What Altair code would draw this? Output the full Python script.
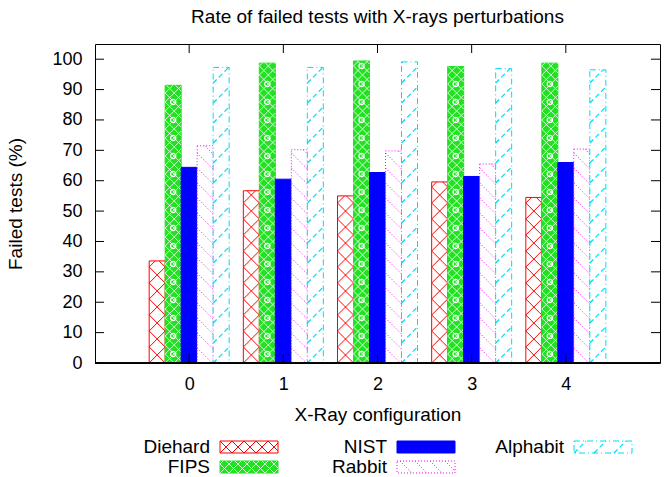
import altair as alt
import pandas as pd

# ---------------- data ----------------
configs = [0, 1, 2, 3, 4]
series = ["Diehard", "FIPS", "NIST", "Rabbit", "Alphabit"]
diehard = [33.6, 56.7, 55.0, 59.6, 54.5]
fips = [91.4, 98.7, 99.4, 97.6, 98.7]
nist = [64.4, 60.5, 62.7, 61.4, 66.0]
rabbit = [71.5, 70.2, 69.8, 65.5, 70.4]
alphabit = [97.3, 97.3, 99.1, 96.9, 96.5]
x_ticks = [0, 1, 2, 3, 4]
y_ticks = [0, 10, 20, 30, 40, 50, 60, 70, 80, 90, 100]
title_text = "Rate of failed tests with X-rays perturbations"
x_title = "X-Ray configuration"
y_title = "Failed tests (%)"

values = {"Diehard": diehard, "FIPS": fips, "NIST": nist, "Rabbit": rabbit, "Alphabit": alphabit}

# ---------------- layout / style ----------------
FONT = "Liberation Sans"
PW, PH = 565, 319
XDOM = [-1, 5]
YDOM = [0, 105]
PX = PW / (XDOM[1] - XDOM[0])
PY = PH / (YDOM[1] - YDOM[0])
BW = 16 / PX
TICK = 9

RED, GREEN, BLUE, MAG, CYAN = "#ff0000", "#22e022", "#0000ff", "#ff00ff", "#00dcef"
style = {
    "Diehard": dict(fill="#ffffff", stroke=RED, dash=None, hatch=[(1, 16), (-1, 16)], lhatch=[(1, 12), (-1, 12)],
                    hc=RED, hd=None, hw=1, rings=None),
    "FIPS": dict(fill=GREEN, stroke=GREEN, dash=None, hatch=[(1, 9), (-1, 9)], lhatch=[(1, 9), (-1, 9)],
                 hc="#d8fbd8", hd=None, hw=1, rings=10),
    "NIST": dict(fill=BLUE, stroke=BLUE, dash=None, hatch=[], lhatch=[], hc=BLUE, hd=None, hw=1, rings=None),
    "Rabbit": dict(fill="#ffffff", stroke=MAG, dash=[1, 2], hatch=[(-1, 15)], lhatch=[(-1, 15)],
                   hc=MAG, hd=[1, 2], hw=1, rings=None),
    "Alphabit": dict(fill="#ffffff", stroke=CYAN, dash=[6, 3, 1, 3], hatch=[(1, 20)], lhatch=[(1, 20)],
                     hc=CYAN, hd=[5, 3], hw=1.2, rings=None),
}

rows = []
for i, s in enumerate(series):
    for c, v in zip(configs, values[s]):
        x0 = c + (i - 2.5) * BW
        rows.append(dict(series=s, config=c, value=v, x0=x0, x1=x0 + BW, y0=0.0))
df = pd.DataFrame(rows)

xs = alt.Scale(domain=XDOM, nice=False, zero=False)
ys = alt.Scale(domain=YDOM, nice=False, zero=False)


def hatch(base, x0, x1, y0, y1, direction, sp, px, py, color, width, dash, xscale, yscale):
    base = base.transform_calculate(
        W=f"(datum.{x1}-datum.{x0})*{px}", H=f"(datum.{y1}-datum.{y0})*{py}"
    )
    if direction > 0:
        base = base.transform_calculate(ks=f"sequence(ceil(-datum.W/{sp}), floor(datum.H/{sp})+1)")
        base = base.transform_flatten(["ks"]).transform_calculate(
            c=f"datum.ks*{sp}",
        ).transform_calculate(
            ta="max(0,-datum.c)", tb="min(datum.W, datum.H-datum.c)"
        ).transform_calculate(
            ya=f"datum.{y0}+(datum.c+datum.ta)/{py}", yb=f"datum.{y0}+(datum.c+datum.tb)/{py}"
        )
    else:
        base = base.transform_calculate(ks=f"sequence(0, floor((datum.H+datum.W)/{sp})+1)")
        base = base.transform_flatten(["ks"]).transform_calculate(
            c=f"datum.ks*{sp}",
        ).transform_calculate(
            ta="max(0,datum.c-datum.H)", tb="min(datum.W, datum.c)"
        ).transform_calculate(
            ya=f"datum.{y0}+(datum.c-datum.ta)/{py}", yb=f"datum.{y0}+(datum.c-datum.tb)/{py}"
        )
    base = base.transform_filter("datum.tb - datum.ta > 0.4").transform_calculate(
        xa=f"datum.{x0}+datum.ta/{px}", xb=f"datum.{x0}+datum.tb/{px}"
    )
    mk = dict(color=color, strokeWidth=width, strokeCap="butt")
    if dash:
        mk["strokeDash"] = dash
    return base.mark_rule(**mk).encode(
        x=alt.X("xa:Q", scale=xscale, axis=None),
        x2="xb:Q",
        y=alt.Y("ya:Q", scale=yscale, axis=None),
        y2="yb:Q",
    )


def rings(base, x0, x1, y0, y1, sp, px, py, xscale, yscale, size):
    """small white rings stacked along the centre of a rectangle (FIPS pattern)"""
    base = base.transform_calculate(
        W=f"(datum.{x1}-datum.{x0})*{px}", H=f"(datum.{y1}-datum.{y0})*{py}"
    ).transform_calculate(
        ks=f"sequence({sp}/2, datum.H-3, {sp})"
    ).transform_flatten(["ks"]).transform_calculate(
        rx=f"(datum.{x0}+datum.{x1})/2", ry=f"datum.{y0}+datum.ks/{py}"
    )
    return base.mark_point(shape="circle", filled=False, stroke="#ffffff", strokeWidth=1.3, size=size,
                           opacity=1).encode(
        x=alt.X("rx:Q", scale=xscale, axis=None),
        y=alt.Y("ry:Q", scale=yscale, axis=None),
    )


lab = dict(labelFont=FONT, labelFontSize=18, labelColor="#000000", labelFlush=False, labelOverlap=False,
           grid=False, domain=False, ticks=False)
tit = dict(titleFont=FONT, titleFontSize=19, titleFontWeight="normal", titleColor="#000000")

axis_main = alt.Chart(df).mark_point(opacity=0).encode(
    x=alt.X("x0:Q", scale=xs, axis=alt.Axis(values=x_ticks, orient="bottom", labelPadding=12,
                                             title=x_title, titlePadding=12, format="d", **lab, **tit)),
    y=alt.Y("value:Q", scale=ys, axis=alt.Axis(values=y_ticks, orient="left", labelPadding=13,
                                                title=y_title, titlePadding=26, format="d", **lab, **tit)),
)

layers = [axis_main]
for s in series:
    st = style[s]
    mk = dict(fill=st["fill"], stroke=st["stroke"], strokeWidth=1)
    if st["dash"]:
        mk["strokeDash"] = st["dash"]
    sub = alt.Chart(df).transform_filter(alt.datum.series == s)
    layers.append(
        sub.mark_bar(**mk).encode(
            x=alt.X("x0:Q", scale=xs, axis=None),
            x2="x1:Q",
            y=alt.Y("value:Q", scale=ys, axis=None),
            y2="y0:Q",
        )
    )
    for d, sp in st["hatch"]:
        layers.append(hatch(sub, "x0", "x1", "y0", "value", d, sp, PX, PY, st["hc"], st["hw"], st["hd"], xs, ys))
    if st["rings"]:
        layers.append(rings(sub, "x0", "x1", "y0", "value", st["rings"] * 1.8, PX, PY, xs, ys, 28))

# inner (mirrored) tick marks, as in the original
ytk = pd.DataFrame({"v": y_ticks})
xtk = pd.DataFrame({"v": x_ticks})
tick_mk = dict(color="#000000", strokeWidth=1)
ticks_left = alt.Chart(ytk).transform_calculate(
    a=f"{XDOM[0]}", b=f"{XDOM[0]}+{TICK}/{PX}"
).mark_rule(**tick_mk).encode(
    x=alt.X("a:Q", scale=xs, axis=None), x2="b:Q", y=alt.Y("v:Q", scale=ys, axis=None)
)
ticks_right = alt.Chart(ytk).transform_calculate(
    a=f"{XDOM[1]}-{TICK}/{PX}", b=f"{XDOM[1]}"
).mark_rule(**tick_mk).encode(
    x=alt.X("a:Q", scale=xs, axis=None), x2="b:Q", y=alt.Y("v:Q", scale=ys, axis=None)
)
ticks_bottom = alt.Chart(xtk).transform_calculate(
    a=f"{YDOM[0]}", b=f"{YDOM[0]}+{TICK}/{PY}"
).mark_rule(**tick_mk).encode(
    y=alt.Y("a:Q", scale=ys, axis=None), y2="b:Q", x=alt.X("v:Q", scale=xs, axis=None)
)
ticks_top = alt.Chart(xtk).transform_calculate(
    a=f"{YDOM[1]}-{TICK}/{PY}", b=f"{YDOM[1]}"
).mark_rule(**tick_mk).encode(
    y=alt.Y("a:Q", scale=ys, axis=None), y2="b:Q", x=alt.X("v:Q", scale=xs, axis=None)
)
bottom_line = alt.Chart(xtk).mark_rule(color="#000000", strokeWidth=1).encode(
    y=alt.Y(datum=0, scale=ys, axis=None)
)

main = alt.layer(*layers, bottom_line, ticks_left, ticks_right, ticks_bottom, ticks_top).resolve_axis(
    x="independent", y="independent"
).properties(
    width=PW, height=PH,
    title=alt.TitleParams(title_text, font=FONT, fontSize=19, fontWeight="normal", color="#000000",
                          anchor="middle", frame="group", offset=17),
    view=alt.ViewBackground(stroke="#000000", strokeWidth=1),
)

# ---------------- legend panel ----------------
LH = 32
ldf = pd.DataFrame({"series": series, "i": list(range(len(series)))})
lxs = alt.Scale(domain=[0, PW], nice=False, zero=False)
lys = alt.Scale(domain=[0, LH], nice=False, zero=False)


def lchart():
    return alt.Chart(ldf).transform_calculate(
        col="floor(datum.i/2)", row="datum.i%2"
    ).transform_calculate(
        sx="125+datum.col*177", cy=f"{LH}-8-datum.row*20"
    ).transform_calculate(
        ex="datum.sx+58", ly0="datum.cy-6", ly1="datum.cy+6", tx="datum.sx-10"
    )


lg_layers = []
for s in series:
    st = style[s]
    mk = dict(fill=st["fill"], stroke=st["stroke"], strokeWidth=1)
    if st["dash"]:
        mk["strokeDash"] = st["dash"]
    sub = lchart().transform_filter(alt.datum.series == s)
    lg_layers.append(
        sub.mark_rect(**mk).encode(
            x=alt.X("sx:Q", scale=lxs, axis=None), x2="ex:Q",
            y=alt.Y("ly0:Q", scale=lys, axis=None), y2="ly1:Q",
        )
    )
    for d, sp in st["lhatch"]:
        lg_layers.append(hatch(sub, "sx", "ex", "ly0", "ly1", d, sp, 1, 1, st["hc"], st["hw"], st["hd"], lxs, lys))

lg_text = lchart().mark_text(align="right", baseline="middle", font=FONT, fontSize=19, color="#000000").encode(
    x=alt.X("tx:Q", scale=lxs, axis=None),
    y=alt.Y("cy:Q", scale=lys, axis=None),
    text="series:N",
)
legend = alt.layer(*lg_layers, lg_text).properties(
    width=PW, height=LH, view=alt.ViewBackground(strokeWidth=0)
)

chart = alt.vconcat(main, legend, spacing=13).properties(
    padding={"left": 6, "top": 7, "right": 5, "bottom": 0}, background="#ffffff"
).configure_view(strokeWidth=0)

chart.save("out.html", embed_options={"renderer": "svg", "actions": False})
